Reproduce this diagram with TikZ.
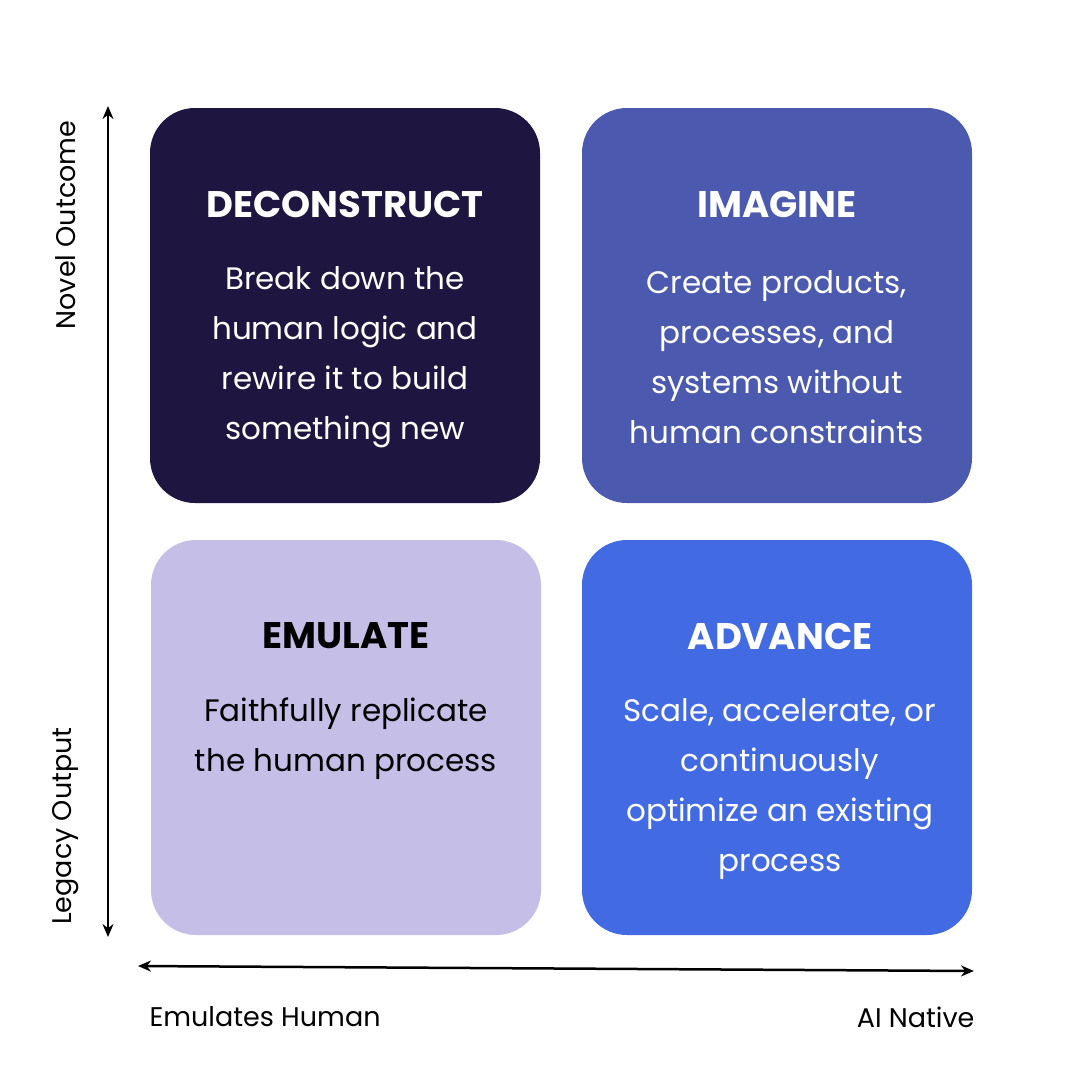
\documentclass[tikz,border=0pt]{standalone}
\usepackage{fontspec}
\setmainfont{Poppins}
\usetikzlibrary{arrows.meta}
\definecolor{cdark}{HTML}{1E1540}
\definecolor{cimag}{HTML}{4B5AAE}
\definecolor{cemul}{HTML}{C5BFE8}
\definecolor{cadv}{HTML}{426AE3}
\begin{document}
\begin{tikzpicture}[x=1pt,y=-1pt,
  box/.style={rounded corners=45pt,minimum width=390pt,minimum height=395pt,inner sep=0pt},
  ttl/.style={font=\fontsize{37}{44}\selectfont\bfseries},
  body/.style={font=\fontsize{31}{50}\selectfont,align=center},
  axl/.style={font=\fontsize{27}{32}\selectfont},
  arr/.style={line width=2.5pt,{Stealth[length=13pt,width=11pt]}-{Stealth[length=13pt,width=11pt]}}]
\useasboundingbox[fill=white] (0,0) rectangle (1080,1080);
\node[box,fill=cdark] (b1) at (345,305.5) {};
\node[box,fill=cimag] (b2) at (777,305.5) {};
\node[box,fill=cemul] (b3) at (346,737.5) {};
\node[box,fill=cadv] (b4) at (777,737.5) {};
\node[ttl,white] (t1) at (345,204) {DECONSTRUCT};
\node[ttl,white] (t2) at (777,204) {IMAGINE};
\node[ttl,black] (t3) at (346,636) {EMULATE};
\node[ttl,white] (t4) at (780,636) {ADVANCE};
\node[body,white] (d1) at (345,357) {Break down the\\human logic and\\rewire it to build\\something new};
\node[body,white] (d2) at (777,357) {Create products,\\processes, and\\systems without\\human constraints};
\node[body,black] (d3) at (346,739) {Faithfully replicate\\the human process};
\node[body,white] (d4) at (780,789) {Scale, accelerate, or\\continuously\\optimize an existing\\process};
\coordinate (vt) at (108,106);
\coordinate (vb) at (108,937);
\draw[arr] (vb) -- (vt);
\coordinate (hl) at (138,966);
\coordinate (hr) at (974,971);
\draw[arr] (hl) -- (hr);
\node[axl,rotate=90] (n1) at (66,225) {Novel Outcome};
\node[axl,rotate=90] (n2) at (66,826) {Legacy Output};
\node[axl,anchor=west] (n3) at (146,1017) {Emulates Human};
\node[axl,anchor=east] (n4) at (978,1017) {AI Native};
\end{tikzpicture}
\end{document}
